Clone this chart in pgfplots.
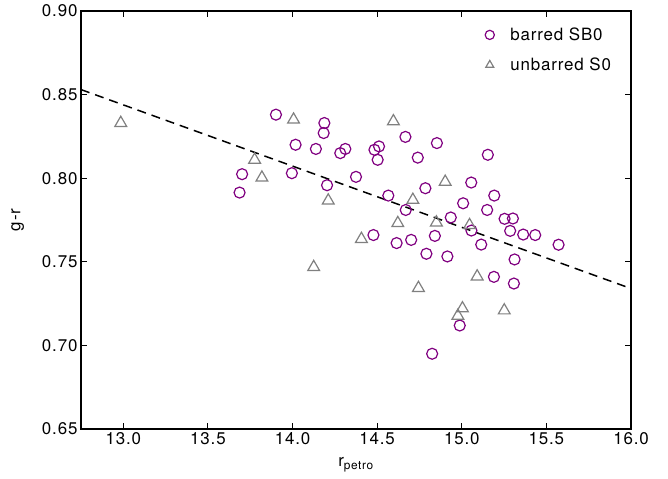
\documentclass[border=0pt]{standalone}
\usepackage{pgfplots}
\pgfplotsset{compat=1.18}
\usepackage{fontspec}
\setmainfont[LetterSpace=5]{TeX Gyre Heros}
\definecolor{barred}{RGB}{128,0,128}
\definecolor{unbar}{RGB}{128,128,128}
\pgfplotstableread{
x y
13.902 0.838
14.188 0.833
14.184 0.827
14.018 0.820
14.138 0.8175
14.282 0.815
14.312 0.8175
13.702 0.8024
13.996 0.803
14.375 0.8008
13.687 0.7914
14.204 0.7958
14.667 0.8247
14.853 0.821
15.154 0.814
14.740 0.8123
14.484 0.817
14.511 0.819
14.503 0.811
15.056 0.7974
14.566 0.7896
14.785 0.794
15.192 0.7896
14.669 0.781
15.008 0.785
15.150 0.781
14.935 0.7765
15.253 0.7757
15.302 0.7759
15.057 0.7687
15.286 0.7685
15.363 0.7663
15.434 0.766
15.572 0.7602
14.478 0.766
14.615 0.7612
14.701 0.7631
14.841 0.7655
15.115 0.7603
14.791 0.7548
14.915 0.7532
15.312 0.7514
15.190 0.741
15.308 0.737
14.988 0.7119
14.825 0.695
}\barredtab
\pgfplotstableread{
x y
12.985 0.833
14.006 0.835
13.776 0.811
13.819 0.8003
14.211 0.7866
14.125 0.7468
14.407 0.7636
14.596 0.834
14.902 0.7978
14.711 0.787
14.622 0.7731
14.850 0.7735
15.046 0.7719
15.091 0.7412
14.744 0.7343
15.004 0.7221
14.977 0.7177
15.251 0.7209
}\unbarredtab
\begin{document}
\begin{tikzpicture}
\begin{axis}[
  scale only axis, width=550bp, height=418bp,
  xmin=12.75, xmax=16, ymin=0.65, ymax=0.90,
  xtick={13,13.5,14,14.5,15,15.5,16},
  ytick={0.65,0.70,0.75,0.80,0.85,0.90},
  tick align=inside, major tick length=6bp,
  tick style={line width=1bp, black},
  axis line style={line width=1.3bp},
  /pgf/number format/assume math mode=true,
  xticklabel style={/pgf/number format/fixed,/pgf/number format/fixed zerofill,/pgf/number format/precision=1},
  yticklabel style={/pgf/number format/fixed,/pgf/number format/fixed zerofill,/pgf/number format/precision=2},
  tick label style={font=\fontsize{17}{20}\selectfont},
  label style={font=\fontsize{17}{20}\selectfont},
  xlabel={r\textsubscript{petro}}, ylabel={g-r},
  xlabel shift=6bp, ylabel shift=11bp,
  legend image code/.code={\draw[#1, mark size=4.6bp] plot coordinates {(0bp,0bp)};},
  legend style={draw=none, fill=none, at={(rel axis cs:0.7345,0.965)}, anchor=north west, font=\fontsize{17}{20}\selectfont, row sep=12bp, column sep=14bp, inner sep=0pt},
  legend cell align=left,
]
\addplot[only marks, mark=o, mark size=5.5bp, draw=barred, line width=1.2bp] table[x=x,y=y] {\barredtab};
\addlegendentry{barred SB0}
\addplot[only marks, mark=triangle, mark size=6.8bp, draw=unbar, line width=1.2bp] table[x=x,y=y] {\unbarredtab};
\addlegendentry{unbarred S0}
\addplot[black, line width=1.5bp, dash pattern=on 9bp off 6bp, forget plot] coordinates {(12.75,0.853) (16,0.734)};
\end{axis}
\path (current axis.south west) +(-81bp,-50bp) (current axis.north east) +(37bp,11bp);
\end{tikzpicture}
\end{document}
